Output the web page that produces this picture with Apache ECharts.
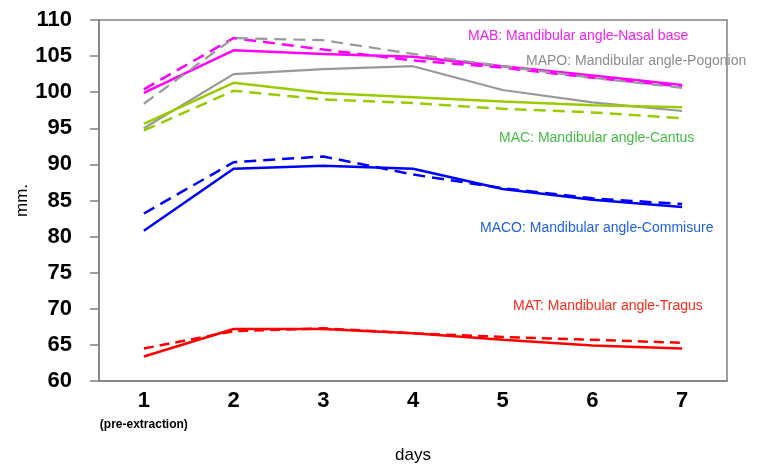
<!DOCTYPE html>
<html>
<head>
<meta charset="utf-8">
<script src="https://cdn.jsdelivr.net/npm/echarts@6/dist/echarts.min.js"></script>
<style>
html,body{margin:0;padding:0;background:#fff;}
#chart{width:760px;height:471px;}
</style>
</head>
<body>
<div id="chart"></div>
<script>
const days = ['1', '2', '3', '4', '5', '6', '7'];
const yTicks = [60, 65, 70, 75, 80, 85, 90, 95, 100, 105, 110];

const mabSolid  = [99.9, 105.8, 105.3, 104.9, 103.6, 102.3, 101.0];
const mabDashed = [100.4, 107.5, 105.9, 104.4, 103.4, 102.0, 100.8];
const mapoSolid  = [95.0, 102.5, 103.2, 103.6, 100.3, 98.6, 97.4];
const mapoDashed = [98.4, 107.5, 107.2, 105.3, 103.6, 102.0, 100.6];
const macSolid  = [95.6, 101.3, 99.9, 99.3, 98.7, 98.2, 97.9];
const macDashed = [94.7, 100.2, 99.0, 98.5, 97.7, 97.2, 96.4];
const macoSolid  = [80.8, 89.4, 89.8, 89.4, 86.6, 85.1, 84.1];
const macoDashed = [83.2, 90.3, 91.1, 88.6, 86.7, 85.3, 84.5];
const matSolid  = [63.4, 67.2, 67.2, 66.6, 65.7, 64.9, 64.5];
const matDashed = [64.5, 66.9, 67.3, 66.6, 66.1, 65.7, 65.3];

const seriesLabels = [
  {text: 'MAB: Mandibular angle-Nasal base', color: '#EE22EE', x: 468, y: 36},
  {text: 'MAPO: Mandibular angle-Pogonion', color: '#8C8C8C', x: 526, y: 61},
  {text: 'MAC: Mandibular angle-Cantus', color: '#44BB44', x: 499, y: 138},
  {text: 'MACO: Mandibular angle-Commisure', color: '#2060E8', x: 480, y: 228},
  {text: 'MAT: Mandibular angle-Tragus', color: '#FF2A1A', x: 513, y: 306}
];

function line(name, data, color, dashed, width, dash) {
  return {
    name: name, type: 'line', data: data, symbol: 'none', smooth: false,
    lineStyle: {color: color, width: width || 2.5, type: dashed ? (dash || [12, 7]) : 'solid'},
    z: dashed ? 3 : 2
  };
}

const chart = echarts.init(document.getElementById('chart'));
chart.setOption({
  animation: false,
  backgroundColor: '#ffffff',
  textStyle: {fontFamily: 'Liberation Sans, Arial, sans-serif'},
  grid: {left: 99, right: 33, top: 20, bottom: 90, show: true, borderColor: '#808080', borderWidth: 1.5, backgroundColor: 'transparent'},
  xAxis: {
    type: 'category', data: days, boundaryGap: true,
    name: 'days', nameLocation: 'middle', nameGap: 66, nameMoveOverlap: false,
    nameTextStyle: {fontSize: 17, color: '#000'},
    axisLine: {lineStyle: {color: '#808080', width: 1.5}},
    axisTick: {show: false},
    axisLabel: {
      interval: 0, hideOverlap: false,
      margin: 8, color: '#000', fontSize: 22, fontWeight: 'bold', lineHeight: 24,
      formatter: function (v, i) { return i === 0 ? v + '\n{sub|(pre-extraction)}' : v; },
      rich: {sub: {fontSize: 12, fontWeight: 'bold', color: '#000', lineHeight: 24}}
    }
  },
  yAxis: {
    type: 'value', min: yTicks[0], max: yTicks[yTicks.length - 1], interval: 5,
    name: 'mm.', nameLocation: 'middle', nameGap: 68, nameRotate: 90, nameMoveOverlap: false,
    nameTextStyle: {fontSize: 17, color: '#000'},
    axisLine: {show: true, lineStyle: {color: '#808080', width: 1.5}},
    axisTick: {show: true, inside: false, length: 9, lineStyle: {color: '#808080', width: 1.5}},
    splitLine: {show: false},
    axisLabel: {margin: 27, color: '#000', fontSize: 22, fontWeight: 'bold'}
  },
  series: [
    line('MAB solid', mabSolid, '#FF00FF', false),
    line('MAB dashed', mabDashed, '#FF00FF', true),
    line('MAPO solid', mapoSolid, '#999999', false, 2.2),
    line('MAPO dashed', mapoDashed, '#999999', true, 2.2),
    line('MAC solid', macSolid, '#99CC00', false),
    line('MAC dashed', macDashed, '#99CC00', true),
    line('MACO solid', macoSolid, '#0000FF', false),
    line('MACO dashed', macoDashed, '#0000FF', true),
    line('MAT solid', matSolid, '#FF0000', false),
    line('MAT dashed', matDashed, '#FF0000', true, 2.5, [10, 6])
  ],
  graphic: seriesLabels.map(function (l) {
    return {
      type: 'text', x: l.x, y: l.y, z: 10,
      style: {text: l.text, fill: l.color, font: '14px "Liberation Sans", Arial, sans-serif', verticalAlign: 'middle', align: 'left'}
    };
  })
});
</script>
</body>
</html>
